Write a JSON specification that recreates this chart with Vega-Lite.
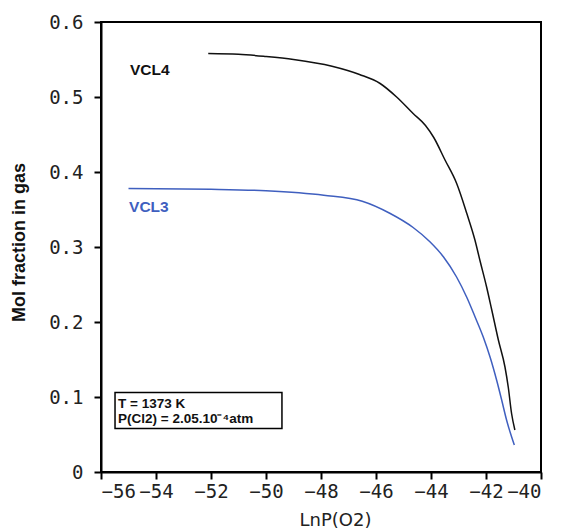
{
  "$schema": "https://vega.github.io/schema/vega-lite/v6.json",
  "autosize": {"type": "none"},
  "padding": {"left": 101, "top": 22, "right": 20, "bottom": 58},
  "width": 440,
  "height": 450,
  "background": "white",
  "config": {
    "view": {"stroke": "black", "strokeWidth": 2},
    "axis": {
      "domainColor": "black", "domainWidth": 2, "tickColor": "black", "tickWidth": 2, "tickSize": 7,
      "grid": false, "labelFont": "DejaVu Sans Mono", "labelFontSize": 19, "labelColor": "#222"
    }
  },
  "datasets": {
    "curves": [
      {"s": "VCL4", "x": -52.1, "y": 0.558},
      {"s": "VCL4", "x": -51.0, "y": 0.557},
      {"s": "VCL4", "x": -50.0, "y": 0.554},
      {"s": "VCL4", "x": -49.0, "y": 0.550},
      {"s": "VCL4", "x": -47.6, "y": 0.541},
      {"s": "VCL4", "x": -46.6, "y": 0.530},
      {"s": "VCL4", "x": -45.85, "y": 0.518},
      {"s": "VCL4", "x": -45.25, "y": 0.500},
      {"s": "VCL4", "x": -44.65, "y": 0.478},
      {"s": "VCL4", "x": -44.2, "y": 0.462},
      {"s": "VCL4", "x": -43.9, "y": 0.446},
      {"s": "VCL4", "x": -43.49, "y": 0.416},
      {"s": "VCL4", "x": -43.07, "y": 0.385},
      {"s": "VCL4", "x": -42.7, "y": 0.345},
      {"s": "VCL4", "x": -42.4, "y": 0.309},
      {"s": "VCL4", "x": -42.22, "y": 0.282},
      {"s": "VCL4", "x": -41.98, "y": 0.247},
      {"s": "VCL4", "x": -41.79, "y": 0.216},
      {"s": "VCL4", "x": -41.55, "y": 0.176},
      {"s": "VCL4", "x": -41.31, "y": 0.140},
      {"s": "VCL4", "x": -41.19, "y": 0.113},
      {"s": "VCL4", "x": -41.07, "y": 0.078},
      {"s": "VCL4", "x": -40.95, "y": 0.056},
      {"s": "VCL3", "x": -55.0, "y": 0.378},
      {"s": "VCL3", "x": -52.0, "y": 0.377},
      {"s": "VCL3", "x": -50.0, "y": 0.375},
      {"s": "VCL3", "x": -47.9, "y": 0.369},
      {"s": "VCL3", "x": -46.5, "y": 0.361},
      {"s": "VCL3", "x": -45.5, "y": 0.345},
      {"s": "VCL3", "x": -44.65, "y": 0.326},
      {"s": "VCL3", "x": -44.04, "y": 0.307},
      {"s": "VCL3", "x": -43.55, "y": 0.287},
      {"s": "VCL3", "x": -43.07, "y": 0.260},
      {"s": "VCL3", "x": -42.7, "y": 0.233},
      {"s": "VCL3", "x": -42.4, "y": 0.207},
      {"s": "VCL3", "x": -42.1, "y": 0.180},
      {"s": "VCL3", "x": -41.85, "y": 0.153},
      {"s": "VCL3", "x": -41.61, "y": 0.122},
      {"s": "VCL3", "x": -41.43, "y": 0.096},
      {"s": "VCL3", "x": -41.25, "y": 0.069},
      {"s": "VCL3", "x": -41.07, "y": 0.047},
      {"s": "VCL3", "x": -40.97, "y": 0.036}
    ],
    "labels": [
      {"s": "VCL4", "x": -54.95, "y": 0.536},
      {"s": "VCL3", "x": -54.98, "y": 0.353}
    ],
    "box": [
      {"x": -55.49, "x2": -49.42, "y": 0.1059, "y2": 0.0579}
    ],
    "note": [
      {"t": "T = 1373 K", "x": -55.38, "y": 0.0905},
      {"t": "P(Cl2) = 2.05.10⁻⁴atm", "x": -55.38, "y": 0.0705}
    ]
  },
  "layer": [
    {
      "data": {"name": "curves"},
      "mark": {"type": "line", "strokeWidth": 1.5, "interpolate": "monotone"},
      "encoding": {
        "x": {
          "field": "x", "type": "quantitative",
          "scale": {"domain": [-56, -40], "nice": false, "zero": false},
          "axis": {"values": [-56, -54, -52, -50, -48, -46, -44, -42, -40], "format": "d", "labelPadding": 3,
                   "title": "LnP(O2)", "titleFont": "DejaVu Sans", "titleFontSize": 18, "titleFontWeight": "normal",
                   "titleX": 234, "titleY": 48, "titleAlign": "center", "titleBaseline": "middle", "titleColor": "#222"}
        },
        "y": {
          "field": "y", "type": "quantitative",
          "scale": {"domain": [0, 0.6], "nice": false},
          "axis": {"values": [0, 0.1, 0.2, 0.3, 0.4, 0.5, 0.6], "labelExpr": "datum.value == 0 ? '0' : format(datum.value, '.1f')", "labelPadding": 11,
                   "title": "Mol fraction in gas", "titleFont": "Liberation Sans", "titleFontSize": 18, "titleFontWeight": "bold",
                   "titleX": -82, "titleY": 220, "titleAngle": -90, "titleAlign": "center", "titleBaseline": "middle", "titleColor": "#111"}
        },
        "color": {"field": "s", "type": "nominal", "scale": {"domain": ["VCL4", "VCL3"], "range": ["#111111", "#3f5fbf"]}, "legend": null},
        "detail": {"field": "s"}
      }
    },
    {
      "data": {"name": "box"},
      "mark": {"type": "rect", "fill": "white", "stroke": "black", "strokeWidth": 1.5},
      "encoding": {
        "x": {"field": "x", "type": "quantitative", "scale": {"domain": [-56, -40], "nice": false, "zero": false}},
        "x2": {"field": "x2"},
        "y": {"field": "y", "type": "quantitative", "scale": {"domain": [0, 0.6], "nice": false}},
        "y2": {"field": "y2"}
      }
    },
    {
      "data": {"name": "note"},
      "mark": {"type": "text", "align": "left", "baseline": "middle", "font": "Liberation Sans", "fontWeight": "bold", "fontSize": 13.5, "color": "#111"},
      "encoding": {
        "x": {"field": "x", "type": "quantitative", "scale": {"domain": [-56, -40], "nice": false, "zero": false}},
        "y": {"field": "y", "type": "quantitative", "scale": {"domain": [0, 0.6], "nice": false}},
        "text": {"field": "t"}
      }
    },
    {
      "data": {"name": "labels"},
      "mark": {"type": "text", "align": "left", "baseline": "middle", "font": "Liberation Sans", "fontWeight": "bold", "fontSize": 15.5},
      "encoding": {
        "x": {"field": "x", "type": "quantitative", "scale": {"domain": [-56, -40], "nice": false, "zero": false}},
        "y": {"field": "y", "type": "quantitative", "scale": {"domain": [0, 0.6], "nice": false}},
        "text": {"field": "s"},
        "color": {"field": "s", "type": "nominal", "legend": null}
      }
    }
  ]
}
